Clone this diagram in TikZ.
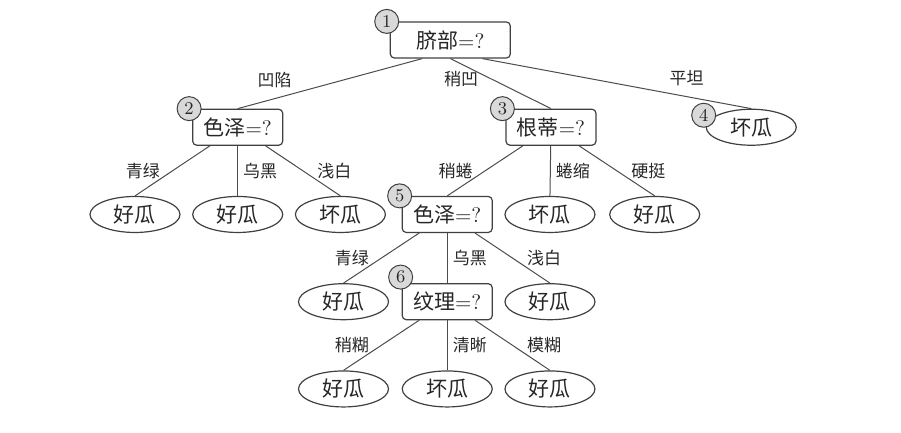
\documentclass[tikz,border=0pt]{standalone}
\usepackage{fontspec}
\newfontfamily\cjk{Noto Sans CJK SC}
\usetikzlibrary{shapes.geometric}

\tikzset{
  test/.style={draw=black!75, rounded corners=2pt, line width=0.6pt, minimum width=45pt, minimum height=18pt, inner sep=1pt, font=\fontsize{10.5}{12}\selectfont},
  leaf/.style={draw=black!75, ellipse, line width=0.6pt, minimum width=45pt, minimum height=18pt, inner sep=0pt, font=\fontsize{10.5}{12}\selectfont\cjk},
  num/.style={draw=black!75, circle, fill=black!15, minimum size=12pt, inner sep=0pt, line width=0.5pt, font=\fontsize{9}{10}\selectfont},
  val/.style={font=\fontsize{8.5}{10}\selectfont\cjk, inner sep=1pt},
  branch/.style={draw=black!70, line width=0.5pt}
}

\begin{document}
\begin{tikzpicture}[x=1.805cm, y=1.533cm, text=black!85]
    \useasboundingbox (-67.5pt,20pt) rectangle (383pt,-196.5pt);

    % tests and leaves
    \node[test, minimum width=60pt] (root) at (3.07,0) {{\cjk 脐部}=?};
    \node[test] (se1) at (1,-1) {{\cjk 色泽}=?};
    \node[test] (gen) at (4.05,-1) {{\cjk 根蒂}=?};
    \node[leaf] (flat) at (6,-1) {坏瓜};

    \node[leaf] (a1) at (0,-2) {好瓜};
    \node[leaf] (a2) at (1,-2) {好瓜};
    \node[leaf] (a3) at (2,-2) {坏瓜};
    \node[test] (se2) at (3.04,-2) {{\cjk 色泽}=?};
    \node[leaf] (b2) at (4.04,-2) {坏瓜};
    \node[leaf] (b3) at (5.06,-2) {好瓜};

    \node[leaf] (c1) at (2.03,-3) {好瓜};
    \node[test] (wen) at (3.04,-3) {{\cjk 纹理}=?};
    \node[leaf] (c3) at (4.04,-3) {好瓜};

    \node[leaf] (d1) at (2.03,-4) {好瓜};
    \node[leaf] (d2) at (3.04,-4) {坏瓜};
    \node[leaf] (d3) at (4.04,-4) {好瓜};

    % branches
    \draw[branch] ([xshift=-14pt]root.south) -- (se1.north) node[val, pos=0.8, above=4pt] {凹陷};
    \draw[branch] (root.south) -- (gen.north) node[val, pos=0.4, left=5pt] {稍凹};
    \draw[branch] ([xshift=16pt]root.south) -- (flat.north) node[val, pos=0.76, above=4pt] {平坦};

    \draw[branch] (se1) -- (a1.north) node[val, midway, left=5pt] {青绿};
    \draw[branch] (se1) -- (a2.north) node[val, midway, right=1.5pt] {乌黑};
    \draw[branch] (se1) -- (a3.north) node[val, midway, right=6pt] {浅白};

    \draw[branch] (gen) -- (se2.north) node[val, midway, left=5pt] {稍蜷};
    \draw[branch] (gen) -- (b2.north) node[val, midway, right=1.5pt] {蜷缩};
    \draw[branch] (gen) -- (b3.north) node[val, midway, right=6pt] {硬挺};

    \draw[branch] (se2) -- (c1.north) node[val, midway, left=5pt] {青绿};
    \draw[branch] (se2) -- (wen.north) node[val, midway, right=1.5pt] {乌黑};
    \draw[branch] (se2) -- (c3.north) node[val, midway, right=6pt] {浅白};

    \draw[branch] (wen) -- (d1.north) node[val, midway, left=5pt] {稍糊};
    \draw[branch] (wen) -- (d2.north) node[val, midway, right=1.5pt] {清晰};
    \draw[branch] (wen) -- (d3.north) node[val, midway, right=6pt] {模糊};

    % numbers
    \node[num] (k1) at ([xshift=-1.5pt]root.north west) {1};
    \node[num] (k2) at ([xshift=-1.5pt]se1.north west) {2};
    \node[num] (k3) at ([xshift=-1.5pt]gen.north west) {3};
    \node[num] (k4) at ([shift={(-1pt,6pt)}]flat.west) {4};
    \node[num] (k5) at ([xshift=-1pt]se2.north west) {5};
    \node[num] (k6) at ([shift={(-0.5pt,3pt)}]wen.north west) {6};
\end{tikzpicture}
\end{document}
